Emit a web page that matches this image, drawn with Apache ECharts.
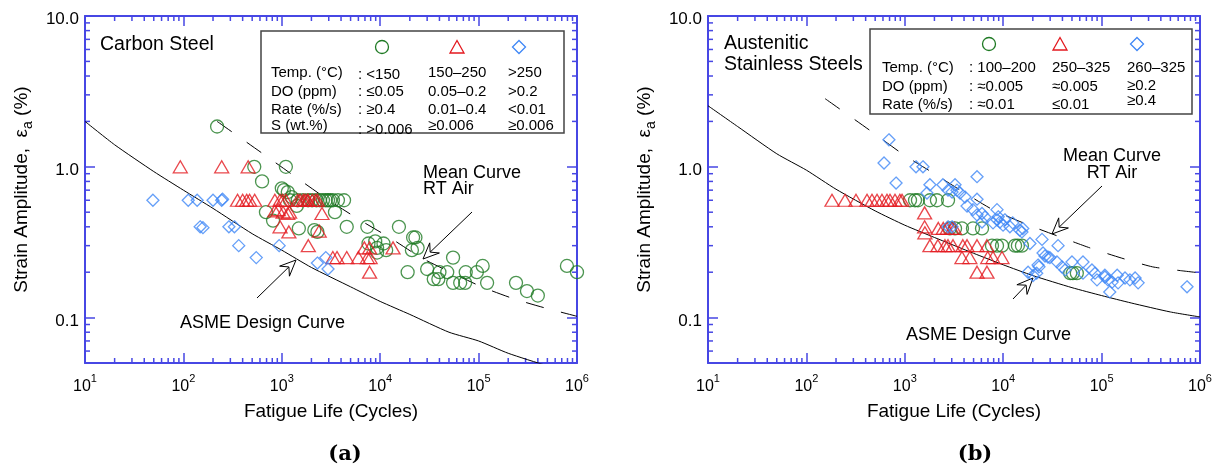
<!DOCTYPE html>
<html><head><meta charset="utf-8">
<script src="https://cdn.jsdelivr.net/npm/echarts@6/dist/echarts.min.js"></script>
<style>html,body{margin:0;padding:0;background:#fff}#c{width:1222px;height:468px}</style>
</head><body><div id="c"></div>
<script>
// ---------- axis ticks / labels ----------
const xMajor = [10, 100, 1000, 10000, 100000, 1000000];
const xMajorExp = ['1', '2', '3', '4', '5', '6'];
const yMajor = [0.1, 1, 10];
const yMajorLabels = ['0.1', '1.0', '10.0'];
const xMinor = [20,30,40,50,60,70,80,90,200,300,400,500,600,700,800,900,2000,3000,4000,5000,6000,7000,8000,9000,
  20000,30000,40000,50000,60000,70000,80000,90000,200000,300000,400000,500000,600000,700000,800000,900000];
const yMinor = [0.06,0.07,0.08,0.09,0.2,0.3,0.4,0.5,0.6,0.7,0.8,0.9,2,3,4,5,6,7,8,9];
const X_MIN = 10, X_MAX = 1000000, Y_MIN = 0.05, Y_MAX = 10;

// ---------- (a) carbon steel ----------
const csCircles = [[220,1.85],[525,1.0],[1100,1.0],[630,0.80],[1000,0.72],[1050,0.70],[1150,0.68],[1260,0.63],
  [690,0.50],[815,0.44],[1420,0.55],
  [1210,0.6],[1450,0.6],[1640,0.6],[1850,0.6],[2030,0.6],[2250,0.6],[2440,0.6],[2620,0.6],[2800,0.6],[2950,0.6],[3100,0.6],[3310,0.6],[3720,0.6],[4290,0.6],
  [3470,0.50],[1490,0.39],[2140,0.38],[2300,0.37],[4570,0.40],[7400,0.40],[15500,0.40],
  [7600,0.31],[8900,0.32],[9300,0.29],[10800,0.31],[11500,0.28],[9300,0.27],
  [21600,0.34],[22800,0.34],[21000,0.28],[24000,0.29],[19000,0.20],[30000,0.21],[35000,0.18],[39000,0.18],
  [40000,0.20],[48000,0.20],[55000,0.25],[55000,0.17],[65000,0.17],[73000,0.17],[74000,0.20],[96000,0.20],
  [110000,0.22],[122000,0.17],[240000,0.17],[310000,0.15],[400000,0.14],[790000,0.22],[1000000,0.20]];
const csTriangles = [[93,1.0],[245,1.0],[455,1.0],
  [355,0.6],[400,0.6],[440,0.6],[470,0.6],[530,0.6],
  [850,0.6],[960,0.6],[1020,0.6],[1100,0.6],[1450,0.6],[1530,0.6],[1650,0.6],[1720,0.6],[1820,0.6],[1850,0.6],[2040,0.6],[2200,0.6],[2300,0.6],
  [850,0.51],[920,0.52],[1030,0.5],[1150,0.49],[1200,0.5],[2560,0.49],
  [960,0.40],[1180,0.37],[2400,0.375],[1860,0.30],
  [3300,0.25],[3640,0.25],[4570,0.25],[6000,0.25],[7400,0.25],[7900,0.25],
  [6900,0.29],[7800,0.29],[13500,0.29],[7800,0.20]];
const csDiamonds = [[49,0.6],[112,0.6],[138,0.6],[200,0.6],[245,0.6],[250,0.61],
  [148,0.40],[158,0.395],[290,0.40],[330,0.40],[365,0.30],[550,0.25],[940,0.30],[2300,0.23],[2800,0.25],[2950,0.21]];
const csAsme = [[10,2.0],[20,1.40],[50,0.93],[100,0.70],[200,0.53],[500,0.36],[1000,0.28],[2000,0.215],[5000,0.16],
  [10000,0.128],[20000,0.105],[50000,0.08],[100000,0.07],[200000,0.058],[500000,0.048],[1000000,0.044]];
const csMean = [[220,2.0],[692,1.18],[1420,0.845],[2870,0.612],[6200,0.444],[12600,0.338],[26500,0.248],
  [51000,0.201],[110000,0.159],[230000,0.133],[470000,0.116],[1000000,0.102]];

// ---------- (b) austenitic stainless steels ----------
const ssCircles = [[1130,0.6],[1270,0.6],[1360,0.6],[1800,0.6],[2120,0.6],[2750,0.6],
  [2870,0.39],[3240,0.39],[3810,0.39],[4930,0.39],[6090,0.39],
  [7690,0.30],[8650,0.30],[9720,0.30],[13200,0.30],[14100,0.30],[15500,0.30],
  [48000,0.197],[51000,0.197],[56000,0.197]];
const ssTriangles = [[182,0.6],[247,0.6],[319,0.6],[413,0.6],[464,0.6],[522,0.6],[586,0.6],[659,0.6],[707,0.6],[795,0.6],[891,0.6],[937,0.6],
  [1590,0.495],[1590,0.40],[1600,0.365],
  [2190,0.39],[2460,0.39],[2690,0.39],[3020,0.39],[3200,0.39],
  [1800,0.30],[2170,0.30],[2560,0.30],[2750,0.30],[3090,0.30],[3890,0.30],[4290,0.30],[5420,0.30],[6840,0.30],
  [3810,0.25],[4580,0.25],[6960,0.25],[7880,0.25],[9720,0.25],
  [5420,0.20],[6840,0.20]];
const ssDiamonds = [[615,1.06],[690,1.51],[815,0.78],[1300,1.0],[1530,1.0],[1680,0.67],[1800,0.76],[2440,0.76],[2750,0.70],
  [3020,0.68],[3240,0.76],[3390,0.70],[3640,0.67],[4090,0.63],[5420,0.86],[5420,0.61],[4290,0.55],[4930,0.52],[5420,0.48],
  [6090,0.49],[6530,0.465],[6090,0.43],[7880,0.425],[8650,0.445],[8650,0.52],[8900,0.466],[9270,0.43],[9970,0.41],
  [2750,0.40],[3020,0.40],[10400,0.445],[11700,0.40],[12500,0.425],[14700,0.38],[15800,0.39],[15500,0.37],[18700,0.31],
  [24800,0.33],[36100,0.30],[25400,0.268],[26600,0.256],[28500,0.252],[29800,0.25],[22600,0.223],[23100,0.217],
  [17900,0.20],[20100,0.19],[21900,0.197],[35200,0.234],[39600,0.217],[42500,0.207],[50000,0.234],[64700,0.234],
  [64700,0.197],[79800,0.207],[85700,0.197],[89800,0.178],[108000,0.191],[108000,0.186],[116000,0.178],[128000,0.172],
  [121000,0.148],[144000,0.191],[147000,0.17],[173000,0.183],[194000,0.178],[219000,0.183],[235000,0.17],[738000,0.16]];
const ssAsme = [[10,2.54],[20,1.85],[50,1.22],[100,0.95],[200,0.71],[500,0.51],[1000,0.41],[2000,0.34],[5000,0.267],
  [10000,0.224],[20000,0.19],[50000,0.158],[100000,0.14],[200000,0.125],[500000,0.109],[1000000,0.101]];
const ssMean = [[155,2.83],[479,1.68],[977,1.20],[1930,0.912],[3900,0.682],[7900,0.518],[17900,0.412],[37700,0.343],
  [76000,0.29],[160000,0.248],[330000,0.217],[670000,0.204],[1000000,0.198]];

// ---------- styling ----------
const AX = '#4747e4';
const GREEN = '#1f7a24', RED = '#e3191f', BLUE = '#3f87f6';
const FONT = 'Liberation Sans, Arial, sans-serif';

const chart = echarts.init(document.getElementById('c'));

function xLab(v) {
  const e = Math.log10(v), r = Math.round(e);
  if (Math.abs(e - r) > 1e-6) return '';
  const i = xMajor.indexOf(Math.pow(10, r));
  return i < 0 ? '' : '{b|10}{s|' + xMajorExp[i] + '}';
}
function yLab(v) {
  const e = Math.log10(v), r = Math.round(e);
  if (Math.abs(e - r) > 1e-6) return '';
  const i = yMajor.findIndex(m => Math.abs(Math.log10(m) - r) < 1e-6);
  return i < 0 ? '' : '{v|' + yMajorLabels[i] + '}';
}

function xAxisDef(grid, pos, main) {
  return {
    type: 'log', logBase: 10, gridIndex: grid, position: pos, min: X_MIN, max: X_MAX,
    axisLine: { show: true, lineStyle: { color: AX, width: 2 } },
    axisTick: { show: true, inside: true, length: 10, lineStyle: { color: AX, width: 1.5 } },
    splitLine: { show: false },
    axisLabel: main ? {
      show: true, margin: 10, formatter: xLab, color: '#000',
      rich: { b: { fontSize: 16, fontFamily: FONT, lineHeight: 22, verticalAlign: 'bottom', color: '#000' },
              s: { fontSize: 11, fontFamily: FONT, lineHeight: 22, verticalAlign: 'top', color: '#000' } }
    } : { show: false },
    name: main ? 'Fatigue Life (Cycles)' : '', nameLocation: 'middle', nameGap: 39,
    nameTextStyle: { fontSize: 19, fontFamily: FONT, color: '#000' }
  };
}
function yAxisDef(grid, pos, main) {
  return {
    type: 'log', logBase: 10, gridIndex: grid, position: pos, min: Y_MIN, max: Y_MAX,
    axisLine: { show: true, lineStyle: { color: AX, width: 2 } },
    axisTick: { show: true, inside: true, length: 10, lineStyle: { color: AX, width: 1.5 } },
    splitLine: { show: false },
    axisLabel: main ? { show: true, margin: 6, formatter: yLab, fontSize: 17, fontFamily: FONT, color: '#000',
      showMinLabel: false,
      rich: { v: { fontSize: 17, fontFamily: FONT, color: '#000', padding: [7, 0, 0, 0] } } } : { show: false },
    name: main ? 'Strain Amplitude,  ε{sub|a} (%)' : '', nameLocation: 'middle', nameGap: 50, nameRotate: 90,
    nameTextStyle: { fontSize: 19, fontFamily: FONT, color: '#000', lineHeight: 26,
      rich: { sub: { fontSize: 14, fontFamily: FONT, color: '#000', verticalAlign: 'bottom', lineHeight: 26 } } }
  };
}

function tickRender(params, api) {
  const kind = api.value(2);
  const st = { stroke: AX, lineWidth: 1.5 };
  const L = 5;
  if (kind === 0) {
    const p0 = api.coord([api.value(0), Y_MIN]);
    const p1 = api.coord([api.value(0), Y_MAX]);
    return { type: 'group', children: [
      { type: 'line', shape: { x1: p0[0], y1: p0[1], x2: p0[0], y2: p0[1] - L }, style: st },
      { type: 'line', shape: { x1: p1[0], y1: p1[1], x2: p1[0], y2: p1[1] + L }, style: st } ] };
  }
  const q0 = api.coord([X_MIN, api.value(1)]);
  const q1 = api.coord([X_MAX, api.value(1)]);
  return { type: 'group', children: [
    { type: 'line', shape: { x1: q0[0], y1: q0[1], x2: q0[0] + L, y2: q0[1] }, style: st },
    { type: 'line', shape: { x1: q1[0], y1: q1[1], x2: q1[0] - L, y2: q1[1] }, style: st } ] };
}
const tickData = xMinor.map(v => [v, Y_MIN, 0]).concat(yMinor.map(v => [X_MIN, v, 1]));

function scatter(data, sym, size, color, xi, yi) {
  return { type: 'scatter', xAxisIndex: xi, yAxisIndex: yi, data: data, symbol: sym, symbolSize: size,
    itemStyle: { color: 'rgba(0,0,0,0)', borderColor: color, borderWidth: 1.3 }, z: 3, silent: true, animation: false };
}
function line(data, dashed, xi, yi) {
  return { type: 'line', xAxisIndex: xi, yAxisIndex: yi, data: data, showSymbol: false, symbol: 'none', smooth: 0.2,
    lineStyle: { color: '#000', width: 1, type: dashed ? [18, 18] : 'solid' }, z: 2, silent: true, animation: false, clip: true };
}

// ---------- annotation graphics ----------
function txt(x, y, s, size, align, extra) {
  return Object.assign({ type: 'text', x: x, y: y, silent: true,
    style: { text: s, fill: '#000', font: size + 'px ' + FONT, align: align || 'left', verticalAlign: 'middle' } }, extra || {});
}
function arrow(x1, y1, x2, y2) {
  const dx = x2 - x1, dy = y2 - y1, d = Math.hypot(dx, dy);
  const ux = dx / d, uy = dy / d, nx = -uy, ny = ux;
  const Lh = 16, W = 7;
  const bx = x2 - ux * Lh, by = y2 - uy * Lh;
  const kx = x2 - ux * Lh * 0.62, ky = y2 - uy * Lh * 0.62;
  return [
    { type: 'line', silent: true, shape: { x1: x1, y1: y1, x2: kx, y2: ky }, style: { stroke: '#000', lineWidth: 1 } },
    { type: 'polygon', silent: true, shape: { points: [[x2, y2], [bx + nx * W, by + ny * W], [kx, ky], [bx - nx * W, by - ny * W]] },
      style: { fill: '#fff', stroke: '#000', lineWidth: 1 } }
  ];
}
function legendSyms(cx, tx, dx, y) {
  return [
    { type: 'circle', silent: true, shape: { cx: cx, cy: y, r: 6.5 }, style: { fill: 'none', stroke: GREEN, lineWidth: 1.3 } },
    { type: 'polygon', silent: true, shape: { points: [[tx, y - 6.5], [tx + 7, y + 6], [tx - 7, y + 6]] }, style: { fill: 'none', stroke: RED, lineWidth: 1.3 } },
    { type: 'polygon', silent: true, shape: { points: [[dx, y - 6.5], [dx + 6.5, y], [dx, y + 6.5], [dx - 6.5, y]] }, style: { fill: 'none', stroke: BLUE, lineWidth: 1.3 } }
  ];
}

const LF = 15;
const graphics = [].concat(
  // panel (a)
  [txt(100, 45, 'Carbon Steel', 19.5)],
  [{ type: 'rect', silent: true, shape: { x: 261, y: 31, width: 303, height: 102 }, style: { fill: '#fff', stroke: '#444', lineWidth: 1.5 }, z: 10 }],
  legendSyms(382, 457, 519, 47).map(g => Object.assign(g, { z: 11 })),
  [
    txt(271, 73, 'Temp. (°C)', LF), txt(358, 75, ': <150', LF), txt(428, 73, '150–250', LF), txt(508, 73, '>250', LF),
    txt(271, 92, 'DO (ppm)', LF), txt(358, 92, ': ≤0.05', LF), txt(428, 92, '0.05–0.2', LF), txt(508, 92, '>0.2', LF),
    txt(271, 110, 'Rate (%/s)', LF), txt(358, 110, ': ≥0.4', LF), txt(428, 110, '0.01–0.4', LF), txt(508, 110, '<0.01', LF),
    txt(271, 126, 'S (wt.%)', LF), txt(358, 130, ': >0.006', LF), txt(428, 126, '≥0.006', LF), txt(508, 126, '≥0.006', LF)
  ].map(g => Object.assign(g, { z: 11 })),
  [txt(423, 173, 'Mean Curve', 18), txt(423, 189, 'RT Air', 18), txt(180, 323, 'ASME Design Curve', 18)],
  arrow(472, 212, 423, 259),
  arrow(257, 298, 296, 260),
  // panel (b)
  [txt(724, 44, 'Austenitic', 19.5), txt(724, 65, 'Stainless Steels', 19.5)],
  [{ type: 'rect', silent: true, shape: { x: 870, y: 29, width: 322, height: 85 }, style: { fill: '#fff', stroke: '#444', lineWidth: 1.5 }, z: 10 }],
  legendSyms(989, 1060, 1137, 44).map(g => Object.assign(g, { z: 11 })),
  [
    txt(882, 68, 'Temp. (°C)', LF), txt(969, 68, ': 100–200', LF), txt(1052, 68, '250–325', LF), txt(1127, 68, '260–325', LF),
    txt(882, 87, 'DO (ppm)', LF), txt(969, 87, ': ≈0.005', LF), txt(1052, 87, '≈0.005', LF), txt(1127, 86, '≥0.2', LF),
    txt(882, 105, 'Rate (%/s)', LF), txt(969, 105, ': ≈0.01', LF), txt(1052, 105, '≤0.01', LF), txt(1127, 101, '≥0.4', LF)
  ].map(g => Object.assign(g, { z: 11 })),
  [txt(1112, 156, 'Mean Curve', 18, 'center'), txt(1112, 173, 'RT Air', 18, 'center'), txt(906, 335, 'ASME Design Curve', 18)],
  arrow(1102, 186, 1052, 234),
  arrow(1013, 299, 1033, 278),
  // captions
  [
    { type: 'text', x: 345, y: 455, silent: true, style: { text: '(a)', fill: '#000', font: 'bold 21px DejaVu Serif, serif', align: 'center', verticalAlign: 'middle' } },
    { type: 'text', x: 975, y: 455, silent: true, style: { text: '(b)', fill: '#000', font: 'bold 21px DejaVu Serif, serif', align: 'center', verticalAlign: 'middle' } }
  ]
);

chart.setOption({
  animation: false,
  backgroundColor: '#fff',
  textStyle: { fontFamily: FONT },
  grid: [
    { left: 85, top: 16, width: 492, height: 347 },
    { left: 708, top: 16, width: 492, height: 347 }
  ],
  xAxis: [xAxisDef(0, 'bottom', true), xAxisDef(0, 'top', false), xAxisDef(1, 'bottom', true), xAxisDef(1, 'top', false)],
  yAxis: [yAxisDef(0, 'left', true), yAxisDef(0, 'right', false), yAxisDef(1, 'left', true), yAxisDef(1, 'right', false)],
  series: [
    { type: 'custom', xAxisIndex: 0, yAxisIndex: 0, data: tickData, renderItem: tickRender, encode: { x: 0, y: 1 }, clip: false, silent: true, z: 1 },
    { type: 'custom', xAxisIndex: 2, yAxisIndex: 2, data: tickData, renderItem: tickRender, encode: { x: 0, y: 1 }, clip: false, silent: true, z: 1 },
    line(csAsme, false, 0, 0), line(csMean, true, 0, 0),
    scatter(csCircles, 'circle', 13, GREEN, 0, 0),
    scatter(csTriangles, 'triangle', [14, 12], RED, 0, 0),
    scatter(csDiamonds, 'diamond', 12, BLUE, 0, 0),
    line(ssAsme, false, 2, 2), line(ssMean, true, 2, 2),
    scatter(ssCircles, 'circle', 13, GREEN, 2, 2),
    scatter(ssTriangles, 'triangle', [14, 12], RED, 2, 2),
    scatter(ssDiamonds, 'diamond', 12, BLUE, 2, 2)
  ],
  graphic: graphics
});
</script></body></html>
